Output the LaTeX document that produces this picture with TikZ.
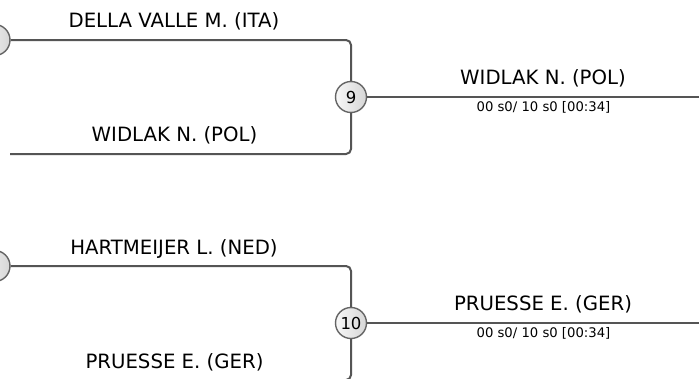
\documentclass[tikz,border=0pt]{standalone}
\usepackage{fontspec}
\setmainfont{DejaVu Sans}
\definecolor{linegray}{RGB}{85,85,85}
\definecolor{ringgray}{RGB}{100,100,100}
\tikzset{
  conn/.style={draw=linegray, line width=2pt, rounded corners=5pt},
  matchnode/.style={circle, draw=ringgray, line width=1.4pt, minimum size=31pt, inner sep=0pt,
    left color=gray!6, right color=gray!32, shading angle=90,
    font=\fontsize{16.5}{18}\selectfont},
  namelabel/.style={anchor=base, inner sep=0pt, font=\fontsize{19.7}{22}\selectfont},
  scorelabel/.style={anchor=base, inner sep=0pt, font=\fontsize{13.2}{15}\selectfont},
}
\begin{document}
\begin{tikzpicture}[x=1pt, y=-1pt]
\useasboundingbox[fill=white] (0,0) rectangle (699,378);
% bracket 1
\node[matchnode] (c1) at (-5.5,40) {};
\coordinate (b1) at (10,154);
\node[matchnode] (c9) at (351,97) {9};
\coordinate (e9) at (699,97);
\draw[conn] (c1.east) -| (c9.north);
\draw[conn] (b1) -| (c9.south);
\draw[conn] (c9.east) -- (e9);
\node[namelabel] (t1) at (174,27) {DELLA VALLE M. (ITA)};
\node[namelabel] (t2) at (174.5,141.5) {WIDLAK N. (POL)};
\node[namelabel] (t3) at (543,84) {WIDLAK N. (POL)};
\node[scorelabel] (s3) at (543.5,111) {00 s0/ 10 s0 [00:34]};
% bracket 2
\node[matchnode] (c2) at (-5.5,266) {};
\coordinate (b2) at (10,380);
\node[matchnode] (c10) at (351,323) {10};
\coordinate (e10) at (699,323);
\draw[conn] (c2.east) -| (c10.north);
\draw[conn] (b2) -| (c10.south);
\draw[conn] (c10.east) -- (e10);
\node[namelabel] (t4) at (174,254) {HARTMEIJER L. (NED)};
\node[namelabel] (t5) at (174.5,368) {PRUESSE E. (GER)};
\node[namelabel] (t6) at (543,310.5) {PRUESSE E. (GER)};
\node[scorelabel] (s6) at (543.5,337.5) {00 s0/ 10 s0 [00:34]};
\end{tikzpicture}
\end{document}
